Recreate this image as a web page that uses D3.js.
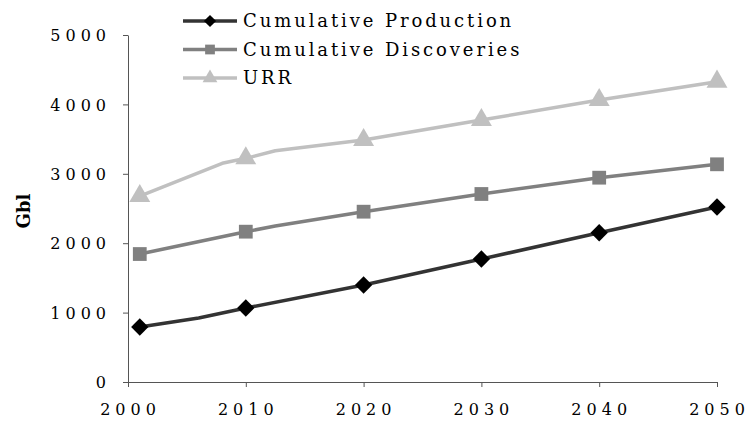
<!DOCTYPE html>
<html>
<head>
<meta charset="utf-8">
<script src="https://cdn.jsdelivr.net/npm/d3@7"></script>
<style>
  body { margin: 0; background: #fff; }
  svg { display: block; }
  .tick text { font-family: "DejaVu Serif", serif; font-size: 16px; letter-spacing: 5px; fill: #000; }
</style>
</head>
<body>
<svg id="chart" width="749" height="424"></svg>
<script>
// series names shown in the legend
var seriesNames = ["Cumulative Production", "Cumulative Discoveries", "URR"];

// line points (years + values, incl. the small kinks)
var prodYears = [2001, 2006, 2010, 2020, 2030, 2040, 2050];
var prodValues = [792, 922, 1066, 1398, 1772, 2151, 2522];
var discYears = [2001, 2010, 2012.5, 2020, 2030, 2040, 2050];
var discValues = [1844, 2166, 2248, 2454, 2709, 2944, 3137];
var urrYears = [2001, 2008, 2010, 2012.5, 2020, 2030, 2040, 2050];
var urrValues = [2680, 3151, 3223, 3332, 3487, 3775, 4063, 4327];

// years that carry a marker
var markerYears = [2001, 2010, 2020, 2030, 2040, 2050];

var xTicks = [2000, 2010, 2020, 2030, 2040, 2050];
var yTicks = [0, 1000, 2000, 3000, 4000, 5000];

var svg = d3.select("#chart");

// plot area
var x = d3.scaleLinear().domain([2000, 2050]).range([128, 717]);
var y = d3.scaleLinear().domain([0, 5000]).range([382, 35]);

// x axis
var xAxis = svg.append("g")
  .attr("transform", "translate(0,382)")
  .call(d3.axisBottom(x).tickValues(xTicks).tickFormat(d3.format("d"))
    .tickSize(5).tickSizeOuter(0).tickPadding(17));
xAxis.selectAll("text").attr("dx", "2px");

// y axis
var yAxis = svg.append("g")
  .attr("transform", "translate(128,0)")
  .call(d3.axisLeft(y).tickValues(yTicks).tickFormat(d3.format("d"))
    .tickSize(5).tickSizeOuter(0).tickPadding(12));
yAxis.selectAll(".tick text").attr("dy", "0.35em");

svg.selectAll(".domain, .tick line").attr("stroke", "#555").attr("stroke-width", 1);

// y label
svg.append("text")
  .attr("transform", "translate(30,211) rotate(-90)")
  .attr("text-anchor", "middle")
  .style("font-family", "DejaVu Serif, serif")
  .style("font-weight", "bold")
  .style("font-size", "18px")
  .text("Gbl");

var series = [
  {name: seriesNames[0], years: prodYears, values: prodValues, color: "#333333", mark: "#000000", shape: d3.symbolSquare, rot: 45, size: 150},
  {name: seriesNames[1], years: discYears, values: discValues, color: "#808080", mark: "#808080", shape: d3.symbolSquare, rot: 0, size: 190},
  {name: seriesNames[2], years: urrYears, values: urrValues, color: "#c0c0c0", mark: "#c0c0c0", shape: d3.symbolTriangle, rot: 0, size: 190}
];

var line = d3.line()
  .x(function(d) { return x(d[0]); })
  .y(function(d) { return y(d[1]); });

series.forEach(function(s) {
  var pts = s.years.map(function(yr, i) { return [yr, s.values[i]]; });
  svg.append("path")
    .datum(pts)
    .attr("fill", "none")
    .attr("stroke", s.color)
    .attr("stroke-width", 3.5)
    .attr("stroke-linejoin", "round")
    .attr("d", line);

  var marks = pts.filter(function(p) { return markerYears.indexOf(p[0]) >= 0; });
  svg.selectAll(null)
    .data(marks)
    .enter()
    .append("path")
      .attr("transform", function(d) { return "translate(" + x(d[0]) + "," + y(d[1]) + ") rotate(" + s.rot + ")"; })
      .attr("d", d3.symbol().type(s.shape).size(s.size))
      .attr("fill", s.mark);
});

// legend
var legend = svg.append("g");
series.forEach(function(s, i) {
  var ly = 21 + i * 28.5;
  legend.append("line")
    .attr("x1", 183).attr("x2", 237)
    .attr("y1", ly).attr("y2", ly)
    .attr("stroke", s.color)
    .attr("stroke-width", 3.5);
  legend.append("path")
    .attr("transform", "translate(210," + ly + ") rotate(" + s.rot + ")")
    .attr("d", d3.symbol().type(s.shape).size(s.size * 0.5))
    .attr("fill", s.mark);
  legend.append("text")
    .attr("x", 243)
    .attr("y", ly)
    .attr("dy", "0.35em")
    .style("font-family", "DejaVu Serif, serif")
    .style("font-size", "18px")
    .style("letter-spacing", "2.9px")
    .text(s.name);
});
</script>
</body>
</html>
